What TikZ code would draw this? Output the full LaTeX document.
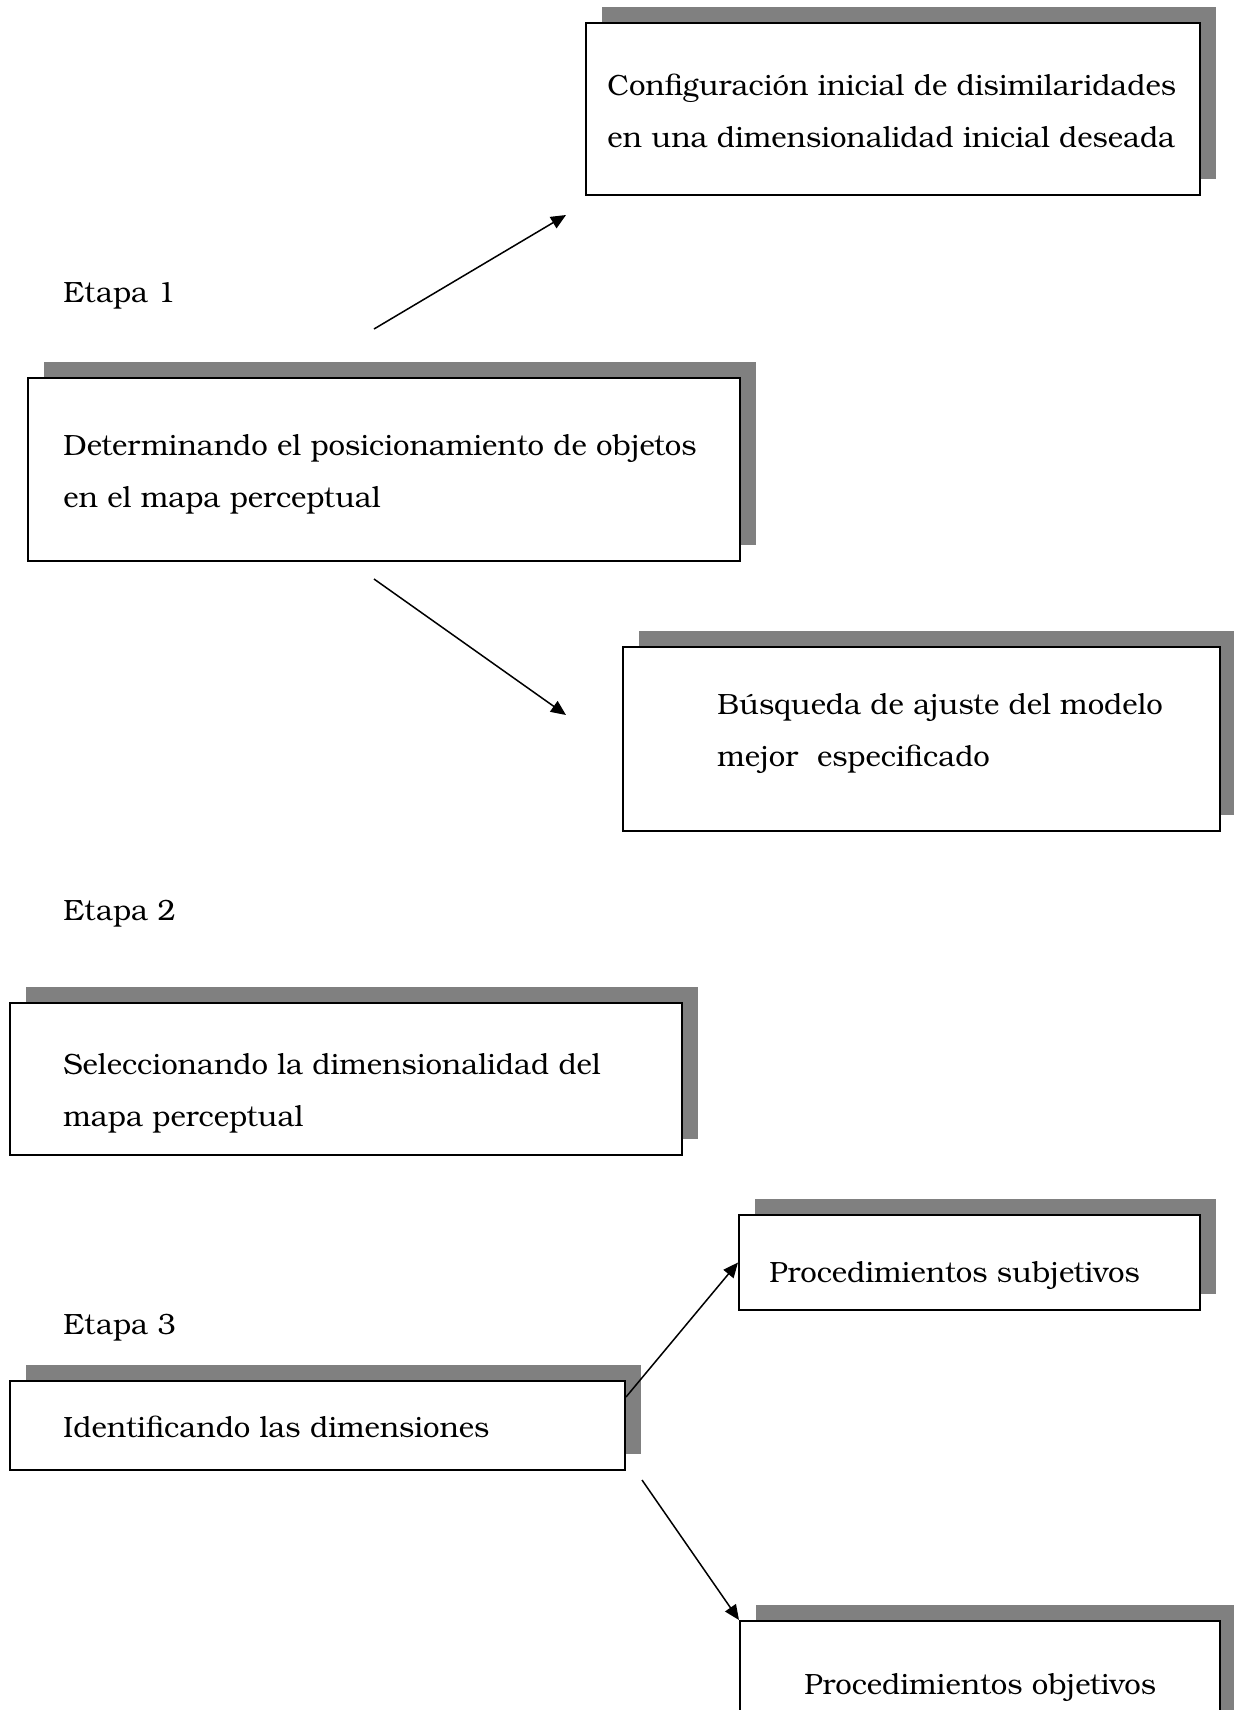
\documentclass[tikz,border=0pt]{standalone}
\usepackage{fontspec}
\setmainfont{TeX Gyre Bonum}
\usetikzlibrary{arrows.meta,shadows,calc}
\begin{document}
\begin{tikzpicture}[x=0.5pt,y=-0.5pt,
  shbox/.style={draw=black, line width=1pt, fill=white, rectangle, inner sep=0pt, anchor=north west,
     general shadow={shadow xshift=8pt, shadow yshift=8pt, fill=black!50}},
  txt/.style={anchor=west, inner sep=0pt, align=left, font=\fontsize{14.65pt}{26pt}\selectfont},
  arr/.style={line width=0.75pt, -{Triangle[length=7.5pt,width=6.5pt]}}]
\useasboundingbox (0,0) rectangle (1234,1710);
% boxes
\node[shbox, minimum width=307pt, minimum height=86pt] (A) at (585,22) {};
\node[shbox, minimum width=356pt, minimum height=91.5pt] (B) at (27,377) {};
\node[shbox, minimum width=298.5pt, minimum height=92pt] (C) at (622,646) {};
\node[shbox, minimum width=336pt, minimum height=76pt] (D) at (9,1002) {};
\node[shbox, minimum width=230.5pt, minimum height=47.5pt] (E) at (738,1214) {};
\node[shbox, minimum width=307.5pt, minimum height=44.5pt] (F) at (9,1380) {};
\node[shbox, minimum width=240pt, minimum height=80pt] (G) at (739,1620) {};
% texts
\node[txt] (tA) at (607,111) {Configuración inicial de disimilaridades\\en una dimensionalidad inicial deseada};
\node[txt] (tB) at (63,474) {Determinando el posicionamiento de objetos\\en el mapa perceptual};
\node[txt] (tC) at (717,733.5) {Búsqueda de ajuste del modelo\\mejor~ especificado};
\node[txt] (tD) at (63,1093.5) {Seleccionando la dimensionalidad del\\mapa perceptual};
\node[txt] (tE) at (769,1276) {Procedimientos subjetivos};
\node[txt] (tF) at (63,1427) {Identificando las dimensiones};
\node[txt] (tG) at (804,1688) {Procedimientos objetivos};
\node[txt] (e1) at (63,295.5) {Etapa 1};
\node[txt] (e2) at (63,914) {Etapa 2};
\node[txt] (e3) at (63,1328) {Etapa 3};
% connectors
\coordinate (a1s) at (374,329);
\coordinate (a1e) at (566,215);
\coordinate (a2s) at (374,579);
\coordinate (a2e) at (566,715);
\coordinate (a4s) at (642,1480);
\draw[arr] (a1s) -- (a1e);
\draw[arr] (a2s) -- (a2e);
\draw[arr] ($(F.north east)+(0,17)$) -- (E.west);
\draw[arr] (a4s) -- (G.north west);
\end{tikzpicture}
\end{document}
